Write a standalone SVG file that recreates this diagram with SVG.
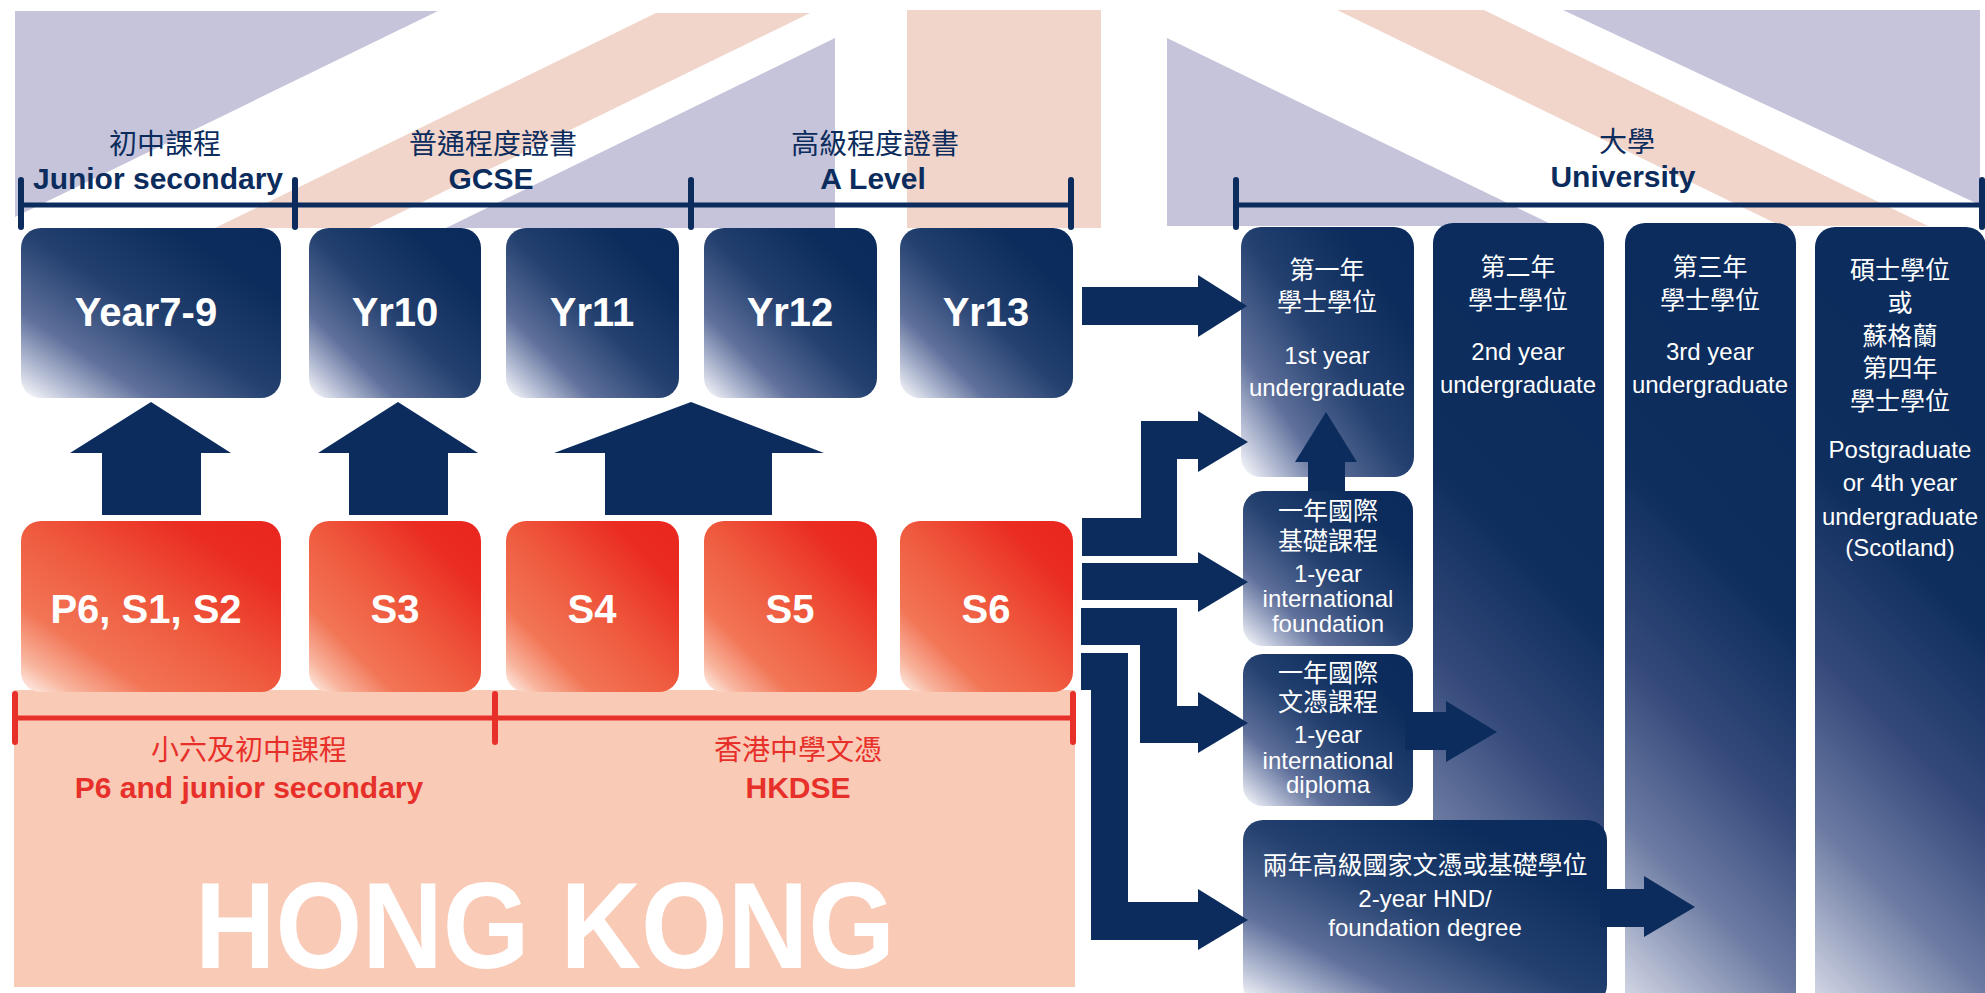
<svg xmlns="http://www.w3.org/2000/svg" width="1985" height="993" viewBox="0 0 1985 993">
<style>
.bgp{fill:#c5c4da}
.bgo{fill:#f1d5cb}
.nv{fill:#0b2c5c}
.brk{stroke:#0b2c5c;stroke-width:5;fill:none}
.tk{stroke:#0b2c5c;stroke-width:6;stroke-linecap:round}
.rbrk{stroke:#e8302a;stroke-width:5;fill:none}
.rtk{stroke:#e8302a;stroke-width:6;stroke-linecap:round}
.hdc{font-family:"Noto Sans CJK TC","Liberation Sans",sans-serif;font-size:28px;fill:#0b2c5c;text-anchor:middle}
.hde{font-family:"Liberation Sans","Noto Sans CJK TC",sans-serif;font-size:30px;font-weight:bold;fill:#0b2c5c;text-anchor:middle}
.rc{font-family:"Noto Sans CJK TC","Liberation Sans",sans-serif;font-size:28px;fill:#e8302a;text-anchor:middle}
.re{font-family:"Liberation Sans","Noto Sans CJK TC",sans-serif;font-size:30px;font-weight:bold;fill:#e8302a;text-anchor:middle}
.big{font-family:"Liberation Sans",sans-serif;font-size:40px;font-weight:bold;fill:#ffffff;text-anchor:middle}
.wc{font-family:"Noto Sans CJK TC","Liberation Sans",sans-serif;font-size:25px;fill:#ffffff;text-anchor:middle}
.we{font-family:"Liberation Sans","Noto Sans CJK TC",sans-serif;font-size:24px;fill:#ffffff;text-anchor:middle}
.hk{font-family:"Liberation Sans",sans-serif;font-size:122px;font-weight:bold;fill:#ffffff;text-anchor:middle}
</style>
<defs>
<linearGradient id="gN" x1="0" y1="1" x2="1" y2="0">
<stop offset="0" stop-color="#ffffff"/>
<stop offset="0.1" stop-color="#bcc3d8"/>
<stop offset="0.25" stop-color="#5f709b"/>
<stop offset="0.5" stop-color="#23406f"/>
<stop offset="0.8" stop-color="#0b2c5c"/>
<stop offset="1" stop-color="#0a2b5b"/>
</linearGradient>
<linearGradient id="gR" x1="0" y1="1" x2="1" y2="0">
<stop offset="0" stop-color="#fff4ef"/>
<stop offset="0.1" stop-color="#f8b59e"/>
<stop offset="0.25" stop-color="#f27556"/>
<stop offset="0.5" stop-color="#ef5a3e"/>
<stop offset="0.8" stop-color="#ea2c22"/>
<stop offset="1" stop-color="#e9261f"/>
</linearGradient>
<linearGradient id="gB" gradientUnits="userSpaceOnUse" x1="1433" y1="993" x2="1813" y2="613">
<stop offset="0" stop-color="#d0d4e3"/>
<stop offset="0.23" stop-color="#6b7aa2"/>
<stop offset="0.45" stop-color="#34497a"/>
<stop offset="0.7" stop-color="#0e2e5e"/>
<stop offset="1" stop-color="#0b2c5c"/>
</linearGradient>
<linearGradient id="gC" gradientUnits="userSpaceOnUse" x1="1625" y1="993" x2="2005" y2="613">
<stop offset="0" stop-color="#d0d4e3"/>
<stop offset="0.23" stop-color="#6b7aa2"/>
<stop offset="0.45" stop-color="#34497a"/>
<stop offset="0.7" stop-color="#0e2e5e"/>
<stop offset="1" stop-color="#0b2c5c"/>
</linearGradient>
<linearGradient id="gD" gradientUnits="userSpaceOnUse" x1="1815" y1="993" x2="2195" y2="613">
<stop offset="0" stop-color="#d0d4e3"/>
<stop offset="0.23" stop-color="#6b7aa2"/>
<stop offset="0.45" stop-color="#34497a"/>
<stop offset="0.7" stop-color="#0e2e5e"/>
<stop offset="1" stop-color="#0b2c5c"/>
</linearGradient>
</defs>

<g id="background">
<polygon class="bgp" points="15,11 438,11 15,217"/>
<polygon class="bgo" points="656,13 810,13 369,228 215,228"/>
<polygon class="bgp" points="835,38 835,228 446,228"/>
<rect class="bgo" x="907" y="10" width="194" height="218"/>
<polygon class="bgp" points="1167,38 1167,226 1555,226"/>
<polygon class="bgo" points="1337,10 1484,10 1928,226 1781,226"/>
<polygon class="bgp" points="1563,10 1980,10 1980,205"/>
<rect x="14" y="690" width="1061" height="297" fill="#f9cab6"/>
<text class="hk" x="545" y="968" textLength="700" lengthAdjust="spacingAndGlyphs">HONG KONG</text>
</g>

<g id="brackets">
<line class="brk" x1="21" y1="205" x2="1071" y2="205"/>
<line class="tk" x1="21" y1="180" x2="21" y2="227"/>
<line class="tk" x1="295" y1="180" x2="295" y2="227"/>
<line class="tk" x1="691" y1="180" x2="691" y2="227"/>
<line class="tk" x1="1071" y1="180" x2="1071" y2="227"/>
<line class="brk" x1="1236" y1="205" x2="1985" y2="205"/>
<line class="tk" x1="1236" y1="180" x2="1236" y2="227"/>
<line class="tk" x1="1982" y1="180" x2="1982" y2="227"/>
<line class="rbrk" x1="15" y1="718" x2="1073" y2="718"/>
<line class="rtk" x1="15" y1="694" x2="15" y2="742"/>
<line class="rtk" x1="495" y1="694" x2="495" y2="742"/>
<line class="rtk" x1="1073" y1="694" x2="1073" y2="742"/>
<text class="hdc" x="165" y="154">初中課程</text>
<text class="hde" x="158" y="189">Junior secondary</text>
<text class="hdc" x="493" y="154">普通程度證書</text>
<text class="hde" x="491" y="189">GCSE</text>
<text class="hdc" x="875" y="154">高級程度證書</text>
<text class="hde" x="873" y="189">A Level</text>
<text class="hdc" x="1627" y="152">大學</text>
<text class="hde" x="1623" y="187">University</text>
<text class="rc" x="249" y="760">小六及初中課程</text>
<text class="re" x="249" y="798">P6 and junior secondary</text>
<text class="rc" x="798" y="760">香港中學文憑</text>
<text class="re" x="798" y="798">HKDSE</text>
</g>

<g id="nodes">
<g id="year7-9"><rect x="21" y="228" width="260" height="170" rx="20" fill="url(#gN)"/><text class="big" x="146" y="326">Year7-9</text></g>
<g id="yr10"><rect x="309" y="228" width="172" height="170" rx="20" fill="url(#gN)"/><text class="big" x="395" y="326">Yr10</text></g>
<g id="yr11"><rect x="506" y="228" width="173" height="170" rx="20" fill="url(#gN)"/><text class="big" x="592" y="326">Yr11</text></g>
<g id="yr12"><rect x="704" y="228" width="173" height="170" rx="20" fill="url(#gN)"/><text class="big" x="790" y="326">Yr12</text></g>
<g id="yr13"><rect x="900" y="228" width="173" height="170" rx="20" fill="url(#gN)"/><text class="big" x="986" y="326">Yr13</text></g>

<g id="p6s1s2"><rect x="21" y="521" width="260" height="171" rx="20" fill="url(#gR)"/><text class="big" x="146" y="623">P6, S1, S2</text></g>
<g id="s3"><rect x="309" y="521" width="172" height="171" rx="20" fill="url(#gR)"/><text class="big" x="395" y="623">S3</text></g>
<g id="s4"><rect x="506" y="521" width="173" height="171" rx="20" fill="url(#gR)"/><text class="big" x="592" y="623">S4</text></g>
<g id="s5"><rect x="704" y="521" width="173" height="171" rx="20" fill="url(#gR)"/><text class="big" x="790" y="623">S5</text></g>
<g id="s6"><rect x="900" y="521" width="173" height="171" rx="20" fill="url(#gR)"/><text class="big" x="986" y="623">S6</text></g>

<g id="year2"><rect x="1433" y="223" width="171" height="790" rx="20" fill="url(#gB)"/>
<text class="wc" x="1518" y="276">第二年</text><text class="wc" x="1518" y="309">學士學位</text>
<text class="we" x="1518" y="360">2nd year</text><text class="we" x="1518" y="393">undergraduate</text></g>
<g id="year3"><rect x="1625" y="223" width="171" height="790" rx="20" fill="url(#gC)"/>
<text class="wc" x="1710" y="276">第三年</text><text class="wc" x="1710" y="309">學士學位</text>
<text class="we" x="1710" y="360">3rd year</text><text class="we" x="1710" y="393">undergraduate</text></g>
<g id="postgrad"><rect x="1815" y="227" width="171" height="790" rx="20" fill="url(#gD)"/>
<text class="wc" x="1900" y="279">碩士學位</text><text class="wc" x="1900" y="312">或</text>
<text class="wc" x="1900" y="345">蘇格蘭</text><text class="wc" x="1900" y="377">第四年</text>
<text class="wc" x="1900" y="410">學士學位</text>
<text class="we" x="1900" y="458">Postgraduate</text><text class="we" x="1900" y="491">or 4th year</text>
<text class="we" x="1900" y="525">undergraduate</text><text class="we" x="1900" y="556">(Scotland)</text></g>
<g id="year1"><rect x="1241" y="227" width="173" height="250" rx="20" fill="url(#gN)"/>
<text class="wc" x="1327" y="279">第一年</text><text class="wc" x="1327" y="311">學士學位</text>
<text class="we" x="1327" y="364">1st year</text><text class="we" x="1327" y="396">undergraduate</text></g>
<g id="foundation"><rect x="1243" y="491" width="170" height="155" rx="20" fill="url(#gN)"/>
<text class="wc" x="1328" y="520">一年國際</text><text class="wc" x="1328" y="550">基礎課程</text>
<text class="we" x="1328" y="582">1-year</text><text class="we" x="1328" y="607">international</text>
<text class="we" x="1328" y="632">foundation</text></g>
<g id="diploma"><rect x="1243" y="654" width="170" height="152" rx="20" fill="url(#gN)"/>
<text class="wc" x="1328" y="682">一年國際</text><text class="wc" x="1328" y="711">文憑課程</text>
<text class="we" x="1328" y="743">1-year</text><text class="we" x="1328" y="769">international</text>
<text class="we" x="1328" y="793">diploma</text></g>
<g id="hnd"><rect x="1243" y="820" width="364" height="185" rx="20" fill="url(#gN)"/>
<text class="wc" x="1425" y="874">兩年高級國家文憑或基礎學位</text>
<text class="we" x="1425" y="907">2-year HND/</text>
<text class="we" x="1425" y="936">foundation degree</text></g>
</g>

<g id="connectors">
<polygon class="nv" points="102,515 102,453 70,453 151,402 231,453 201,453 201,515"/>
<polygon class="nv" points="349,515 349,453 318,453 398,402 478,453 448,453 448,515"/>
<polygon class="nv" points="605,515 605,453 554,453 691,402 824,453 772,453 772,515"/>
<polygon class="nv" points="1082,287 1198,287 1198,275 1247,306 1198,337 1198,325 1082,325"/>
<polygon class="nv" points="1082,518 1141,518 1141,421 1198,421 1198,411 1248,442 1198,472 1198,459 1177,459 1177,556 1082,556"/>
<polygon class="nv" points="1082,563 1198,563 1198,552 1248,582 1198,612 1198,600 1082,600"/>
<polygon class="nv" points="1081,608 1177,608 1177,706 1198,706 1198,692 1248,723 1198,753 1198,743 1140,743 1140,645 1081,645"/>
<polygon class="nv" points="1081,653 1128,653 1128,902 1198,902 1198,889 1248,920 1198,950 1198,940 1091,940 1091,690 1081,690"/>
<polygon class="nv" points="1308,491 1308,462 1295,462 1326,412 1357,462 1345,462 1345,491"/>
<polygon class="nv" points="1405,712 1446,712 1446,701 1497,732 1446,762 1446,750 1405,750"/>
<polygon class="nv" points="1600,889 1644,889 1644,876 1695,907 1644,937 1644,927 1600,927"/>
</g>
</svg>
